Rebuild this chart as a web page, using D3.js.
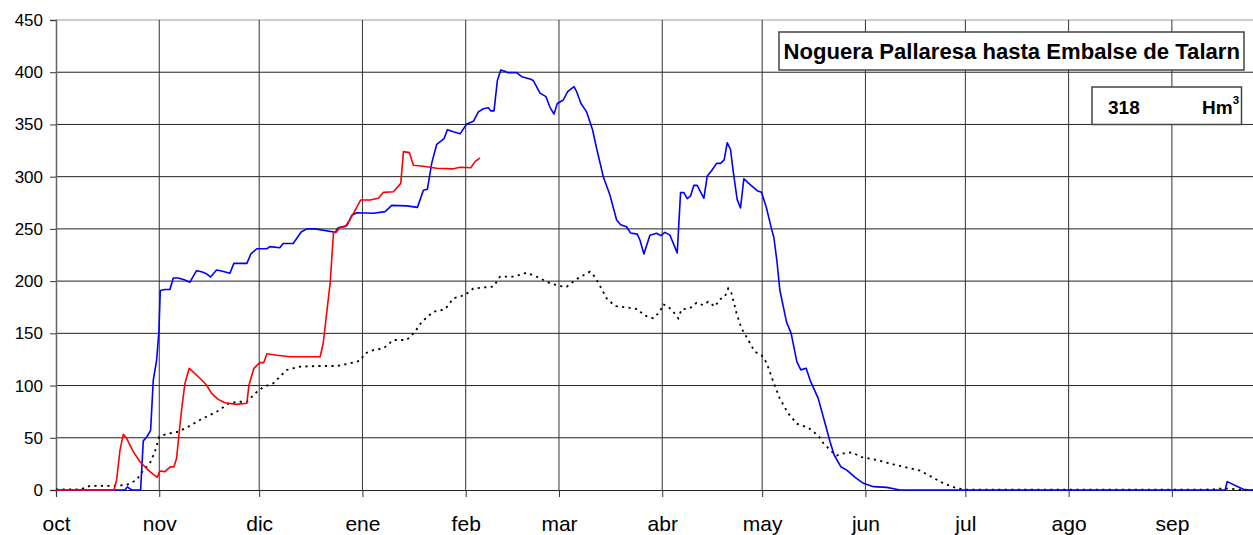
<!DOCTYPE html>
<html>
<head>
<meta charset="utf-8">
<script src="https://cdn.jsdelivr.net/npm/d3@7"></script>
<style>
  html, body { margin: 0; padding: 0; background: #fff; }
  svg { display: block; font-family: Arial, "Liberation Sans", sans-serif; }
</style>
</head>
<body>
<svg id="chart" width="1253" height="535"></svg>
<script>
// ---- data ----
const monthLabels = ["oct","nov","dic","ene","feb","mar","abr","may","jun","jul","ago","sep"];
const monthStarts = [0,31,61,92,123,151,182,212,243,273,304,335];
const yTicks = [0,50,100,150,200,250,300,350,400,450];

const titleText = "Noguera Pallaresa hasta Embalse de Talarn";
const currentValue = "318";
const unitText = "Hm";
const unitSup = "3";

// previous year (blue)
const blueDays = [0,20.7,21.4,22.7,25.4,26.2,27.2,28.4,29.2,30.2,30.9,31.3,32.7,34.2,35.2,36.7,38.7,40.2,42.2,43.7,45.2,46.4,48.2,49.4,52.2,53.4,57.3,58.5,60.3,63.3,64.2,67.2,68.2,71.2,73.6,75.3,77.8,83.8,84.7,87.3,88.8,90.3,95.3,98.8,100.8,105.3,108.5,110.3,111.5,112.8,114.3,116.5,117.5,119.3,121.3,123.3,125.3,126.8,128.3,129.8,130.5,131.5,132.5,133.5,134.8,135.5,138.3,139.8,142.3,143.3,145.3,147.1,148.3,149.5,150.5,152.3,153.6,155.5,156.3,157.6,159.3,161.1,162.3,164.3,166.3,168.3,169.5,171.3,172.5,174.5,175.3,176.5,178.3,180.3,181.5,182.8,184.3,186.5,187.5,188.5,189.5,190.5,191.5,192.5,194.5,195.5,196.8,198.3,199.5,200.6,201.5,202.5,203.3,204.5,205.5,206.5,207.8,209.3,210.5,211.8,213.3,214.8,215.5,216.4,217.3,219.3,220.7,222.4,223.6,225.2,226.4,228.8,230.6,232.4,233.6,235.6,237.4,239.9,242.4,245.4,249.4,253.4,351.0,351.6,356.4,358.4,365];
const blueValues = [0,0,3,0,0,47,50.5,57,105,124,152,191,192,192,203,203,201,199,210,209,207,204,210.6,210,207.5,217,217,226,231,231,233,232,236,236,247,250,250,246.7,251,253,263,265.5,265,266.5,272.5,272,270.6,287,288,313,331,336.4,345,343,341,350.4,353,362,365,366,363,363,392,402,401,399.6,399.6,395.7,393.5,392,380,376.6,366.4,360,370,373.4,381.4,386.2,381.4,370,362,344.7,327,300,282.5,258.5,254,252,246,245,239.4,226,244,245.8,243.5,246.7,244,227,284.7,284.7,279,281.5,291.7,291.7,279.3,300.6,305.7,312.7,312.7,316,332.5,326,305,278,270,298,294,290,286.6,285,270,250,242,220,191.5,161,150,123,115,116.5,105,88,67,46,33.5,22.3,19,12,6.4,3.2,2.5,0,0,8,0.7,0,0];

// current year (red)
const redDays = [0,17.4,18.2,19.2,20.2,21.2,23.2,25.2,28.2,30.4,31.2,32.7,34.4,35.4,36.2,36.9,37.7,38.7,40.0,43.2,45.2,46.7,48.7,50.7,54.2,57.3,57.9,59.4,61.2,62.4,63.3,66.3,70.2,79.3,80.2,82.3,83.3,84.1,85.3,86.8,88.3,91.5,94.3,96.8,98.3,101.3,103.5,104.3,106.1,107.3,110.3,114.3,119.3,121.3,124.5,125.8,127.3];
const redValues = [0,0,9.6,38,53.3,49.5,36.7,27,17.6,12.1,18.2,17.6,22.3,22,30.3,52.7,76.6,102,116.5,107,100.5,92.5,86.8,83.6,82,83,100,116.5,122,122,130.5,129,127.6,127.6,140,198,246,246.7,251.5,252,259,277.7,277.7,279.3,285,285.6,293.6,324,323,311,310,308,307.5,309,308.6,314.4,318];

// average (black dotted)
const avgDays = [0,7.2,10.2,17.1,21.2,24.2,26.2,28.2,29.7,31.0,33.2,36.7,39.7,43.2,46.2,49.2,51.2,54.2,57.3,60.3,62.2,65.2,67.2,69.3,73.2,78.3,84.3,88.3,91.3,92.8,95.3,98.3,101.3,105.3,107.8,109.8,113.3,116.8,119.3,122.8,125.3,131.3,133.3,137.3,141.3,144.3,148.3,151.3,153.3,156.3,160.3,161.8,163.3,165.3,167.8,171.3,174.8,176.3,179.3,181.3,182.3,183.8,185.3,186.8,187.8,190.3,192.3,194.3,195.8,197.8,199.3,200.8,201.8,202.8,204.3,205.8,207.8,209.8,211.8,213.3,215.3,217.3,219.8,222.4,225.9,228.9,230.4,232.9,234.4,236.4,238.9,241.9,246.4,251.4,255.4,259.4,262.4,266.4,270.4,273.4,343.4,347.4,349.4,352.4,356.4,365];
const avgValues = [0.5,0.5,4,4,4.8,9.6,19,25.5,36.7,51,53.6,55.8,60.6,67,71.8,76.6,82,84.5,84.5,94,98.5,102,108.5,115,118,118.7,118.7,121.3,123.8,130.8,134,135.6,143.6,143.6,151.6,161,170.7,173,183.5,186.7,193,194.7,204.2,204.2,208,204.2,198,195.3,194.5,202,209,204,195.5,183.5,176.2,174.9,173,167.6,164.4,170.7,177.8,175.5,170.7,164.4,173,174,179.3,177,180.3,175.5,182.6,185,193,188.3,169.2,154.8,143.6,132.4,129,122,104,87.5,73.4,63.5,59.5,52,44.7,36.7,33,35,36,31.5,28.7,24.5,21.5,18.5,13.4,6.4,1.6,0.3,0.3,0.6,1.3,1.3,0,0];

// ---- layout ----
(function () {
const W = 1253, H = 535;
const mLeft = 56, mTop = 20, mBottom = 490;
const mRight = mLeft + 365 * 3.331;

const svg = d3.select("#chart");
const x = d3.scaleLinear().domain([0, 365]).range([mLeft, mRight]);
const y = d3.scaleLinear().domain([0, 450]).range([mBottom, mTop]);

svg.append("rect").attr("width", W).attr("height", H).attr("fill", "#fff");

// horizontal gridlines
svg.append("g").selectAll("line").data(yTicks.filter(d => d > 0)).join("line")
  .attr("x1", mLeft).attr("x2", W).attr("y1", d => y(d)).attr("y2", d => y(d))
  .attr("stroke", d => d === 450 ? "#9a9a9a" : "#222").attr("stroke-width", 1);

// vertical gridlines
svg.append("g").selectAll("line").data(monthStarts.slice(1)).join("line")
  .attr("x1", d => x(d)).attr("x2", d => x(d)).attr("y1", mTop).attr("y2", mBottom)
  .attr("stroke", "#333").attr("stroke-width", 1);

// y axis
const yAxis = d3.axisLeft(y).tickValues(yTicks).tickSize(6).tickPadding(7).tickFormat(d3.format("d"));
const gy = svg.append("g").attr("transform", `translate(${mLeft},0)`).call(yAxis);
gy.select(".domain").attr("stroke", "#666").attr("stroke-width", 1.5);
gy.selectAll(".tick line").attr("stroke", "#333");
gy.selectAll(".tick text").attr("font-size", 17).attr("fill", "#000")
  .attr("font-family", "Arial, 'Liberation Sans', sans-serif");

// x axis
const xAxis = d3.axisBottom(x).tickValues(monthStarts).tickSize(7)
  .tickFormat((d, i) => monthLabels[i]).tickPadding(19);
const gx = svg.append("g").attr("transform", `translate(0,${mBottom})`).call(xAxis);
gx.select(".domain").attr("stroke", "#222").attr("stroke-width", 1.2);
gx.selectAll(".tick line").attr("stroke", "#333");
gx.selectAll(".tick text").attr("font-size", 21).attr("fill", "#000")
  .attr("font-family", "Arial, 'Liberation Sans', sans-serif");

// clip
svg.append("clipPath").attr("id", "plotClip").append("rect")
  .attr("x", mLeft).attr("y", mTop - 5).attr("width", mRight - mLeft).attr("height", mBottom - mTop + 10);

const line = d3.line().x(d => x(d[0])).y(d => y(d[1]));
const zip = (a, b) => a.map((d, i) => [d, b[i]]);

const plot = svg.append("g").attr("clip-path", "url(#plotClip)");
plot.append("path").datum(zip(avgDays, avgValues)).attr("d", line)
  .attr("fill", "none").attr("stroke", "#000").attr("stroke-width", 1.8)
  .attr("stroke-dasharray", "2.2,4.3");
plot.append("path").datum(zip(blueDays, blueValues)).attr("d", line)
  .attr("fill", "none").attr("stroke", "#0000ff").attr("stroke-width", 1.6)
  .attr("stroke-linejoin", "round");
plot.append("path").datum(zip(redDays, redValues)).attr("d", line)
  .attr("fill", "none").attr("stroke", "#ff0000").attr("stroke-width", 1.6)
  .attr("stroke-linejoin", "round");

// title box
svg.append("rect").attr("x", 779).attr("y", 32).attr("width", 465).attr("height", 38)
  .attr("fill", "#fff").attr("stroke", "#444").attr("stroke-width", 1.5);
svg.append("text").attr("x", 783.5).attr("y", 58.5).attr("font-size", 22.1)
  .attr("font-weight", "bold").attr("fill", "#000").text(titleText);

// value box
svg.append("rect").attr("x", 1092).attr("y", 87).attr("width", 149.5).attr("height", 37.5)
  .attr("fill", "#fff").attr("stroke", "#444").attr("stroke-width", 1.5);
svg.append("text").attr("x", 1108).attr("y", 113.5).attr("font-size", 19)
  .attr("font-weight", "bold").attr("fill", "#000").text(currentValue);
const unit = svg.append("text").attr("x", 1202).attr("y", 113.5).attr("font-size", 19)
  .attr("font-weight", "bold").attr("fill", "#000");
unit.append("tspan").text(unitText);
unit.append("tspan").attr("font-size", 11.5).attr("dy", -10).text(unitSup);
})();
</script>
</body>
</html>
